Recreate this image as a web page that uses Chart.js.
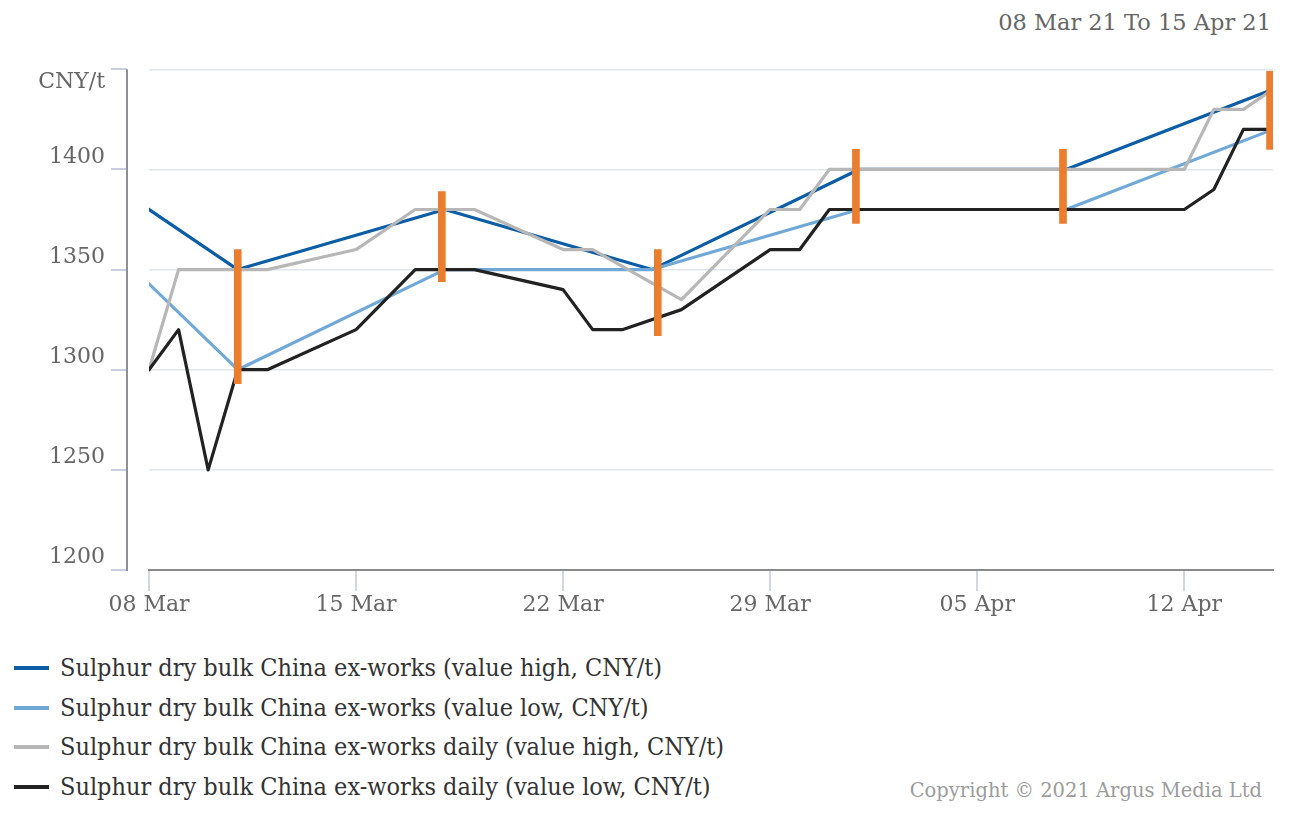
<!DOCTYPE html>
<html>
<head>
<meta charset="utf-8">
<script src="https://cdn.jsdelivr.net/npm/chart.js@4.4.1/dist/chart.umd.min.js"></script>
<style>
  html, body { margin: 0; padding: 0; background: #ffffff; }
  body { width: 1303px; height: 817px; position: relative; overflow: hidden; }
  #chart { position: absolute; left: 0; top: 0; }
  #title { position: absolute; right: 32px; top: 8px; font: 22.5px 'DejaVu Serif', serif; color: #666666; line-height: 28px; white-space: nowrap; }
  #legend { position: absolute; left: 0; top: 648px; }
  .item { position: absolute; left: 0; height: 40px; white-space: nowrap; }
  .mark { position: absolute; left: 14px; width: 35px; height: 4px; top: 18px; }
  .txt { position: absolute; left: 60px; top: 4px; font-family: 'DejaVu Serif Condensed', 'DejaVu Serif', serif; font-stretch: condensed; font-size: 25px; line-height: 32px; color: #333333; white-space: nowrap; }
  #copy { position: absolute; right: 41px; top: 777px; font: 19.5px 'DejaVu Serif', serif; color: #9c9c9c; line-height: 28px; white-space: nowrap; }
</style>
</head>
<body>
<div id="title">08 Mar 21 To 15 Apr 21</div>
<canvas id="chart" width="1303" height="640"></canvas>
<div id="legend"></div>
<div id="copy">Copyright © 2021 Argus Media Ltd</div>
<script>
// ---- data (x = days since 08 Mar 2021) ----
const tickDays = [0, 7, 14, 21, 28, 35];
const tickLabels = ['08 Mar', '15 Mar', '22 Mar', '29 Mar', '05 Apr', '12 Apr'];
const yTickLabels = { 1450: 'CNY/t' };

const weeklyDays = [-4, 3, 10, 17, 24, 31, 38];
const weeklyHigh = [1420, 1350, 1380, 1350, 1400, 1400, 1440];
const weeklyLow  = [1400, 1300, 1350, 1350, 1380, 1380, 1420];

const dailyDays = [0, 1, 2, 3, 4, 7, 8, 9, 10, 11, 14, 15, 16, 17, 18, 21, 22, 23, 24, 25, 28, 29, 30, 31, 32, 35, 36, 37, 38];
const dailyHigh = [1300, 1350, 1350, 1350, 1350, 1360, null, 1380, 1380, 1380, 1360, 1360, null, null, 1335, 1380, 1380, 1400, 1400, 1400, 1400, 1400, 1400, 1400, 1400, 1400, 1430, 1430, 1440];
const dailyLow  = [1300, 1320, 1250, 1300, 1300, 1320, null, 1350, 1350, 1350, 1340, 1320, 1320, null, 1330, 1360, 1360, 1380, 1380, 1380, 1380, 1380, 1380, 1380, 1380, 1380, 1390, 1420, 1420];

const rangeDays = [3, 9.9, 17.2, 23.9, 30.9, 37.9];
const rangeLow  = [1293, 1344, 1317, 1373, 1373, 1410];
const rangeHigh = [1360, 1389, 1360, 1410, 1410, 1449];

const seriesNames = [
  'Sulphur dry bulk China ex-works (value high, CNY/t)',
  'Sulphur dry bulk China ex-works (value low, CNY/t)',
  'Sulphur dry bulk China ex-works daily (value high, CNY/t)',
  'Sulphur dry bulk China ex-works daily (value low, CNY/t)'
];
const seriesColors = ['#0b5da6', '#70a9d8', '#b7b7b7', '#222222'];

const toXY = (xs, ys) => xs.map((x, i) => ({ x: x, y: ys[i] }));

const lineBase = { type: 'line', pointRadius: 0, pointHoverRadius: 0, borderWidth: 3.2, tension: 0, spanGaps: true, borderJoinStyle: 'round', borderCapStyle: 'round', fill: false };

const datasets = [
  Object.assign({}, lineBase, { label: seriesNames[0], data: toXY(weeklyDays, weeklyHigh), borderColor: seriesColors[0], backgroundColor: seriesColors[0], order: 4 }),
  Object.assign({}, lineBase, { label: seriesNames[1], data: toXY(weeklyDays, weeklyLow), borderColor: seriesColors[1], backgroundColor: seriesColors[1], order: 3 }),
  Object.assign({}, lineBase, { label: seriesNames[2], data: toXY(dailyDays, dailyHigh), borderColor: seriesColors[2], backgroundColor: seriesColors[2], order: 2 }),
  Object.assign({}, lineBase, { label: seriesNames[3], data: toXY(dailyDays, dailyLow), borderColor: seriesColors[3], backgroundColor: seriesColors[3], order: 1 }),
  { type: 'bar', label: 'range', data: rangeDays.map((x, i) => ({ x: x, y: [rangeLow[i], rangeHigh[i]] })), backgroundColor: '#ea7d2e', borderWidth: 0, barThickness: 7, grouped: false, order: 0 }
];

const yAxisDecor = {
  id: 'yAxisDecor',
  afterDraw(chart) {
    const ctx = chart.ctx, y = chart.scales.y, a = chart.chartArea;
    ctx.save();
    ctx.lineWidth = 2;
    ctx.strokeStyle = '#c9cde0';
    y.ticks.forEach(t => {
      const py = Math.round(y.getPixelForValue(t.value));
      ctx.beginPath(); ctx.moveTo(111, py); ctx.lineTo(127, py); ctx.stroke();
    });
    ctx.strokeStyle = '#8e8e98';
    ctx.beginPath(); ctx.moveTo(127, a.top); ctx.lineTo(127, a.bottom + 1); ctx.stroke();
    ctx.restore();
  }
};

const tickFont = { family: "'DejaVu Serif', serif", size: 22 };

const chart = new Chart(document.getElementById('chart'), {
  type: 'line',
  data: { datasets: datasets },
  options: {
    responsive: false,
    devicePixelRatio: 1,
    animation: false,
    layout: { padding: { top: 67, right: 30, left: 0, bottom: 0 } },
    plugins: { legend: { display: false }, tooltip: { enabled: false }, title: { display: false } },
    scales: {
      x: {
        type: 'linear', min: 0, max: 38, offset: false,
        grid: { drawOnChartArea: false, drawTicks: true, tickLength: 21, color: '#d2d5e3', lineWidth: 2, offset: false },
        border: { display: true, color: '#8a8a8a', width: 2 },
        ticks: { stepSize: 7, includeBounds: false, autoSkip: false, maxRotation: 0, padding: 1, color: '#666666', font: tickFont,
          callback: (v) => { const i = tickDays.indexOf(v); return i >= 0 ? tickLabels[i] : ''; } },
        afterBuildTicks: (s) => { s.ticks = tickDays.map(v => ({ value: v })); },
        afterFit: (s) => { s.height = 70; }
      },
      y: {
        type: 'linear', min: 1200, max: 1450,
        grid: { drawTicks: false, color: '#e3e5ee', lineWidth: 1.5 },
        border: { display: false },
        ticks: { stepSize: 50, padding: 44, color: '#666666', font: { family: "'DejaVu Serif', serif", size: 22, lineHeight: 1.15 },
          callback: (v) => yTickLabels[v] ? ['', yTickLabels[v]] : [String(v), ''] },
        afterFit: (s) => { s.width = 149; }
      }
    }
  },
  plugins: [yAxisDecor]
});

// HTML legend built from the chart's datasets
const legend = document.getElementById('legend');
chart.data.datasets.slice(0, 4).forEach((ds, i) => {
  const item = document.createElement('div');
  item.className = 'item';
  item.style.top = (i * 39.7) + 'px';
  const m = document.createElement('div');
  m.className = 'mark';
  m.style.background = ds.borderColor;
  const t = document.createElement('div');
  t.className = 'txt';
  t.textContent = ds.label;
  item.appendChild(m); item.appendChild(t);
  legend.appendChild(item);
});
</script>
</body>
</html>
